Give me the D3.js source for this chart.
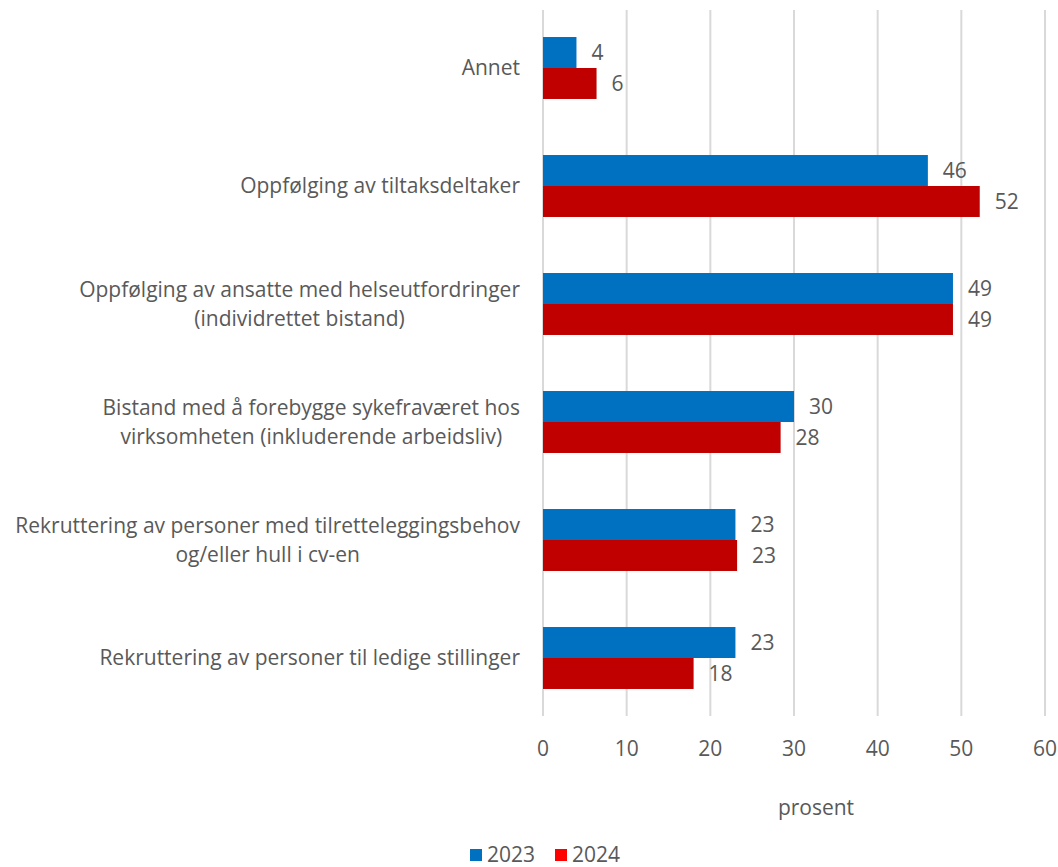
<!DOCTYPE html>
<html>
<head>
<meta charset="utf-8">
<script src="https://cdn.jsdelivr.net/npm/d3@7"></script>
<style>
  body { margin: 0; background: #fff; }
  svg { display: block; font-family: "Open Sans", "Noto Sans", sans-serif; }
</style>
</head>
<body>
<div id="chart"></div>
<script>
const width = 1058;
const height = 867;

const categories = [
  ["Annet"],
  ["Oppfølging av tiltaksdeltaker"],
  ["Oppfølging av ansatte med helseutfordringer", "(individrettet bistand)"],
  ["Bistand med å forebygge sykefraværet hos", "virksomheten (inkluderende arbeidsliv)"],
  ["Rekruttering av personer med tilretteleggingsbehov", "og/eller hull i cv-en"],
  ["Rekruttering av personer til ledige stillinger"]
];
const years = ["2023", "2024"];
const values2023 = [4, 46, 49, 30, 23, 23];
const values2024 = [6.4, 52.2, 49, 28.4, 23.2, 18];
const xTicks = [0, 10, 20, 30, 40, 50, 60];

const barColors = { "2023": "#0070C0", "2024": "#C00000" };
const legendColors = { "2023": "#0070C0", "2024": "#FF0000" };
const textColor = "#595959";
const fontSize = "21px";

const svg = d3.select("#chart").append("svg")
  .attr("width", width)
  .attr("height", height);

const x = d3.scaleLinear().domain([0, 60]).range([543, 1045]);

const y = d3.scaleBand()
  .domain(d3.range(categories.length))
  .range([9, 717])
  .paddingInner(0.475)
  .paddingOuter(0.2375);

const ySub = d3.scaleBand().domain(years).range([0, y.bandwidth()]);

// gridlines
svg.append("g").selectAll("line")
  .data(xTicks)
  .join("line")
  .attr("x1", d => x(d)).attr("x2", d => x(d))
  .attr("y1", 10).attr("y2", 716)
  .attr("stroke", "#D9D9D9")
  .attr("stroke-width", 2);

// tick labels
svg.append("g").selectAll("text")
  .data(xTicks)
  .join("text")
  .attr("x", d => x(d))
  .attr("y", 756)
  .attr("text-anchor", "middle")
  .attr("fill", textColor)
  .style("font-size", fontSize)
  .text(d => d);

const rows = categories.map((c, i) => ({ i, lines: c, v: { "2023": values2023[i], "2024": values2024[i] } }));

const groups = svg.append("g").selectAll("g")
  .data(rows)
  .join("g")
  .attr("transform", d => `translate(0, ${y(d.i)})`);

years.forEach(yr => {
  groups.append("rect")
    .attr("x", x(0))
    .attr("y", ySub(yr))
    .attr("width", d => x(d.v[yr]) - x(0))
    .attr("height", ySub.bandwidth())
    .attr("fill", barColors[yr]);

  groups.append("text")
    .attr("x", d => x(d.v[yr]) + 15)
    .attr("y", ySub(yr) + ySub.bandwidth() / 2)
    .attr("dy", "0.35em")
    .attr("fill", textColor)
    .style("font-size", fontSize)
    .text(d => d3.format(".0f")(d.v[yr]));
});

// category labels: block right-aligned, lines centred inside
const labelRight = 520;
const lineH = 29;
groups.each(function (d) {
  const g = d3.select(this);
  const t = g.append("text")
    .attr("fill", textColor)
    .attr("text-anchor", "middle")
    .style("font-size", fontSize);
  const tsp = d.lines.map((ln, k) => t.append("tspan")
    .attr("y", y.bandwidth() / 2 + (k - (d.lines.length - 1) / 2) * lineH)
    .attr("dy", "0.35em")
    .text(ln));
  const maxW = d3.max(tsp, s => s.node().getComputedTextLength());
  tsp.forEach(s => s.attr("x", labelRight - maxW / 2));
});

// axis title
svg.append("text")
  .attr("x", 816)
  .attr("y", 815)
  .attr("text-anchor", "middle")
  .attr("fill", textColor)
  .style("font-size", fontSize)
  .text("prosent");

// legend
const legend = svg.append("g").attr("transform", "translate(470, 855)");
const legendX = { "2023": 0, "2024": 85 };
years.forEach(yr => {
  legend.append("rect")
    .attr("x", legendX[yr])
    .attr("y", -6)
    .attr("width", 12)
    .attr("height", 12)
    .attr("fill", legendColors[yr]);
  legend.append("text")
    .attr("x", legendX[yr] + 17)
    .attr("y", 0)
    .attr("dy", "0.35em")
    .attr("fill", textColor)
    .style("font-size", fontSize)
    .text(yr);
});
</script>
</body>
</html>
